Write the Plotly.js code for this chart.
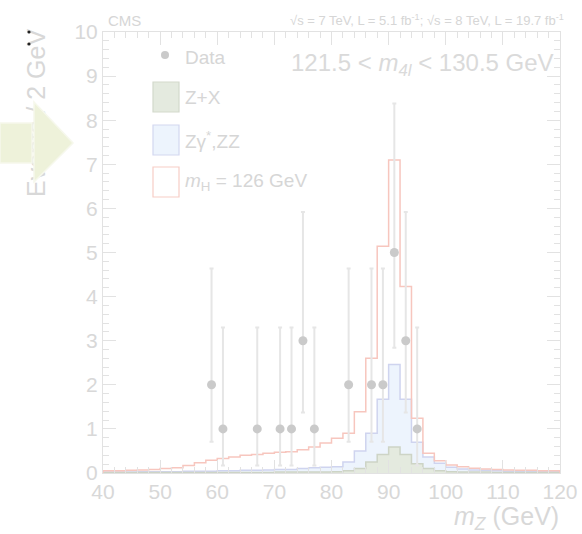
<!DOCTYPE html>
<html>
<head>
<meta charset="utf-8">
<script src="https://cdn.plot.ly/plotly-3.0.1.min.js"></script>
<style>
html,body{margin:0;padding:0;background:#fff;}
#wrap{position:relative;width:582px;height:534px;}
#plot{position:absolute;left:0;top:0;width:582px;height:534px;}
#overlay{position:absolute;left:0;top:0;pointer-events:none;}
</style>
</head>
<body>
<div id="wrap">
<div id="plot"></div>
<svg id="overlay" width="582" height="534"></svg>
</div>
<script>
// Bin edges (2 GeV bins from 40 to 120 GeV)
var binEdges = [40,42,44,46,48,50,52,54,56,58,60,62,64,66,68,70,72,74,76,78,80,82,84,86,88,90,92,94,96,98,100,102,104,106,108,110,112,114,116,118,120];

// Stacked histogram heights per bin
var zxHeight = [0.01,0.01,0.01,0.01,0.01,0.01,0.01,0.01,0.01,0.01,0.01,0.01,0.01,0.01,0.01,0.02,0.02,0.02,0.02,0.02,0.03,0.05,0.10,0.25,0.42,0.59,0.42,0.21,0.10,0.05,0.03,0.02,0.02,0.02,0.01,0.01,0.01,0.01,0.01,0.01];
var zzStackHeight = [0.02,0.02,0.02,0.03,0.03,0.03,0.03,0.04,0.04,0.04,0.05,0.05,0.06,0.06,0.07,0.08,0.08,0.10,0.12,0.13,0.14,0.25,0.50,0.90,1.67,2.46,1.67,0.70,0.36,0.22,0.13,0.09,0.07,0.06,0.05,0.04,0.04,0.03,0.03,0.03];
var totalHeight = [0.05,0.05,0.06,0.07,0.08,0.10,0.12,0.17,0.23,0.29,0.33,0.36,0.40,0.42,0.45,0.47,0.48,0.53,0.59,0.68,0.79,0.90,1.39,2.60,5.14,7.10,4.23,1.24,0.45,0.28,0.18,0.14,0.11,0.09,0.08,0.07,0.06,0.06,0.05,0.05];

// Data points
var dataX = [59,61,67,71,73,75,77,83,87,89,91,93,95];
var dataY = [2,1,1,1,1,3,1,2,2,2,5,3,1];
var dataErrUp = [2.64,2.30,2.30,2.30,2.30,2.92,2.30,2.64,2.64,2.64,3.38,2.92,2.30];
var dataErrDown = [1.29,0.83,0.83,0.83,0.83,1.63,0.83,1.29,1.29,1.29,2.16,1.63,0.83];

var xTickVals = [40,50,60,70,80,90,100,110,120];
var yTickVals = [0,1,2,3,4,5,6,7,8,9,10];

var FONT = 'Liberation Sans, Arial, Helvetica, sans-serif';

function stepXY(vals){
  var xs=[binEdges[0]], ys=[0];
  for(var i=0;i<vals.length;i++){ xs.push(binEdges[i]); ys.push(vals[i]); }
  xs.push(binEdges[binEdges.length-1]); ys.push(vals[vals.length-1]);
  xs.push(binEdges[binEdges.length-1]); ys.push(0);
  return {x:xs,y:ys};
}

var sZZ = stepXY(zzStackHeight), sZX = stepXY(zxHeight), sTot = stepXY(totalHeight);

var traces = [
  {x:sZZ.x,y:sZZ.y,type:'scatter',mode:'lines',line:{shape:'hv',color:'#cfd4ef',width:1.5},fill:'tozeroy',fillcolor:'#edf4fd',hoverinfo:'skip'},
  {x:sZX.x,y:sZX.y,type:'scatter',mode:'lines',line:{shape:'hv',color:'#cdd4c6',width:1.5},fill:'tozeroy',fillcolor:'#e4eadf',hoverinfo:'skip'},
  {x:sTot.x,y:sTot.y,type:'scatter',mode:'lines',line:{shape:'hv',color:'#f7c6be',width:1.5},hoverinfo:'skip'},
  {x:dataX,y:dataY,type:'scatter',mode:'markers',marker:{color:'#cacaca',size:9},
   error_y:{type:'data',symmetric:false,array:dataErrUp,arrayminus:dataErrDown,color:'#e6e6e6',thickness:2,width:2}}
];

var L=103, R=22, T=32, B=61, W=582, H=534;
var PW=W-L-R, PH=H-T-B;
function px(x){return (x-L)/PW;}
function py(y){return (H-B-y)/PH;}

var axisCommon = {
  ticks:'inside', ticklen:13, tickwidth:1, tickcolor:'#e2e2e2',
  showline:true, linecolor:'#e2e2e2', linewidth:1, mirror:'allticks',
  showgrid:false, zeroline:false,
  tickfont:{family:FONT,size:21,color:'#d8d8d8'},
  fixedrange:true
};

var xaxis = Object.assign({}, axisCommon, {range:[40,120], tickvals:xTickVals, ticktext:xTickVals.map(String),
  minor:{dtick:2, tick0:40, ticks:'inside', ticklen:6, tickcolor:'#e2e2e2'}});
var yaxis = Object.assign({}, axisCommon, {range:[0,10], tickvals:yTickVals, ticktext:yTickVals.map(String),
  minor:{dtick:0.2, tick0:0, ticks:'inside', ticklen:6, tickcolor:'#e2e2e2'}});

var txt = '#d6d6d6';
var annotations = [
  {text:'CMS', x:px(106), y:py(21), xref:'paper', yref:'paper', xanchor:'left', yanchor:'middle', showarrow:false, font:{family:FONT,size:15,color:txt}},
  {text:'√s = 7 TeV, L = 5.1 fb<sup>-1</sup>; √s = 8 TeV, L = 19.7 fb<sup>-1</sup>', x:px(566), y:py(20), xref:'paper', yref:'paper', xanchor:'right', yanchor:'middle', showarrow:false, font:{family:FONT,size:13,color:txt}},
  {text:'121.5 < <i>m</i><sub><i>4l</i></sub> < 130.5 GeV', x:px(556), y:py(65), xref:'paper', yref:'paper', xanchor:'right', yanchor:'middle', showarrow:false, font:{family:FONT,size:24,color:'#dadada'}},
  {text:'Data', x:px(183), y:py(57), xref:'paper', yref:'paper', xanchor:'left', yanchor:'middle', showarrow:false, font:{family:FONT,size:19,color:txt}},
  {text:'Z+X', x:px(183), y:py(97), xref:'paper', yref:'paper', xanchor:'left', yanchor:'middle', showarrow:false, font:{family:FONT,size:19,color:txt}},
  {text:'Zγ<sup>*</sup>,ZZ', x:px(183), y:py(140), xref:'paper', yref:'paper', xanchor:'left', yanchor:'middle', showarrow:false, font:{family:FONT,size:19,color:txt}},
  {text:'<i>m</i><sub>H</sub> = 126 GeV', x:px(183), y:py(182), xref:'paper', yref:'paper', xanchor:'left', yanchor:'middle', showarrow:false, font:{family:FONT,size:19,color:txt}},
  {text:'<i>m</i><sub><i>Z</i></sub> (GeV)', x:px(561), y:py(518), xref:'paper', yref:'paper', xanchor:'right', yanchor:'middle', showarrow:false, font:{family:FONT,size:25,color:'#d8d8d8'}},
  {text:'Events / 2 GeV', x:px(36), y:py(113), xref:'paper', yref:'paper', xanchor:'center', yanchor:'middle', textangle:-90, showarrow:false, font:{family:FONT,size:25,color:'#d8d8d8'}}
];

var shapes = [
  {type:'circle', xref:'paper', yref:'paper', x0:px(161), x1:px(169), y0:py(51), y1:py(59), fillcolor:'#cacaca', line:{width:0}},
  {type:'rect', xref:'paper', yref:'paper', x0:px(153), x1:px(179), y0:py(82), y1:py(112), fillcolor:'#e4eadf', line:{color:'#d3d9cc',width:1.2}},
  {type:'rect', xref:'paper', yref:'paper', x0:px(153), x1:px(179), y0:py(125), y1:py(155), fillcolor:'#edf4fd', line:{color:'#d3d7f0',width:1.2}},
  {type:'rect', xref:'paper', yref:'paper', x0:px(153), x1:px(179), y0:py(167), y1:py(197), fillcolor:'#ffffff', line:{color:'#f7cdc6',width:1.2}}
];

var layout = {
  width:W, height:H, margin:{l:L,r:R,t:T,b:B},
  paper_bgcolor:'#ffffff', plot_bgcolor:'#ffffff',
  showlegend:false, xaxis:xaxis, yaxis:yaxis,
  annotations:annotations, shapes:shapes,
  font:{family:FONT}
};

Plotly.newPlot('plot', traces, layout, {displayModeBar:false, staticPlot:true});

// Decorative arrow overlay (covers part of the y-axis title, as in the reference)
var ns='http://www.w3.org/2000/svg', ov=document.getElementById('overlay');
function poly(pts, fill, stroke){
  var p=document.createElementNS(ns,'polygon');
  p.setAttribute('points',pts); p.setAttribute('fill',fill);
  p.setAttribute('stroke',stroke); p.setAttribute('stroke-width','1.5');
  ov.appendChild(p);
}
poly('0,123 32,123 32,163 0,163','#eef2da','#f6f8ec');
poly('34,102 73,143 34,182','#eef2da','#f6f8ec');
function dot(cx,cy){
  var c=document.createElementNS(ns,'circle');
  c.setAttribute('cx',cx); c.setAttribute('cy',cy); c.setAttribute('r','1.6'); c.setAttribute('fill','#222');
  ov.appendChild(c);
}
dot(29,32); dot(29,44);
</script>
</body>
</html>
